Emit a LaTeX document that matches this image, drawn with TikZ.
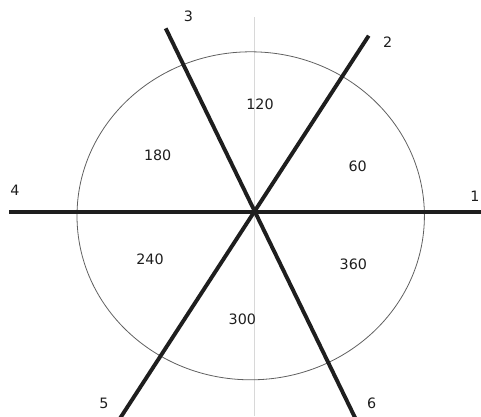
\documentclass[tikz,border=0pt]{standalone}
\usepackage{fontspec}
\setmainfont{DejaVu Sans}
\definecolor{SpokeInk}{HTML}{1E1E1E}
\definecolor{RingGray}{HTML}{606060}
\definecolor{AxisGray}{HTML}{D8D8D8}

\begin{document}
\begin{tikzpicture}[x=1pt, y=-1pt,
    spoke/.style={SpokeInk, line width=3.9pt},
    ring/.style={RingGray, line width=0.8pt},
    tag/.style={font=\fontsize{14.3}{16}\selectfont, text=SpokeInk, inner sep=0pt}]
    \useasboundingbox (0,0) rectangle (481,416);
    \clip (0,0) rectangle (481,416);

    % ========== Guide and ring ==========
    \draw[AxisGray, line width=0.7pt] (254.3,17) -- (254.3,416);
    \draw[ring] (250.7,215.8) ellipse [x radius=173.7, y radius=164];

    % ========== Spokes ==========
    \coordinate (O) at (254.3,211.7);
    \coordinate (e1) at (481,211.7);
    \coordinate (e4) at (9,211.7);
    \coordinate (e2) at (368.7,35.7);
    \coordinate (e5) at (110.5,433);
    \coordinate (e3) at (165.7,28.3);
    \coordinate (e6) at (362.5,433);
    \draw[spoke] (e4) -- (e1);
    \draw[spoke] (e2) -- (e5);
    \draw[spoke] (e3) -- (e6);

    % ========== End numbers ==========
    \node[tag] (n1) at (475,196.7) {1};
    \node[tag] (n2) at (387.7,42.3) {2};
    \node[tag] (n3) at (188.3,16) {3};
    \node[tag] (n4) at (15,190.7) {4};
    \node[tag] (n5) at (104,403.3) {5};
    \node[tag] (n6) at (371.7,403.3) {6};

    % ========== Sector values ==========
    \node[tag] (s60) at (357.7,166) {60};
    \node[tag] (s120) at (260,104.3) {120};
    \node[tag] (s180) at (157.7,155.7) {180};
    \node[tag] (s240) at (150,259.3) {240};
    \node[tag] (s300) at (242.3,319.3) {300};
    \node[tag] (s360) at (353.3,264.3) {360};

\end{tikzpicture}
\end{document}
